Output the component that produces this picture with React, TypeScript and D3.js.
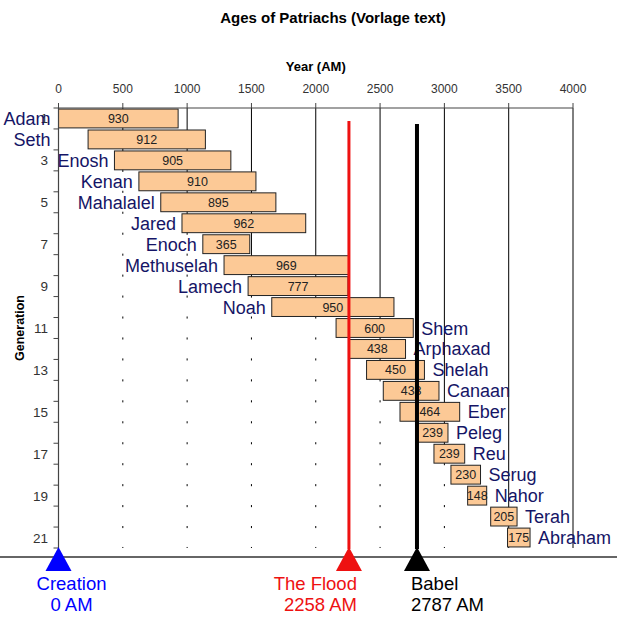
import React from "react";
import * as d3 from "d3";

const names = ["Adam", "Seth", "Enosh", "Kenan", "Mahalalel", "Jared", "Enoch", "Methuselah", "Lamech", "Noah", "Shem", "Arphaxad", "Shelah", "Canaan", "Eber", "Peleg", "Reu", "Serug", "Nahor", "Terah", "Abraham"];
const births = [0, 230, 435, 625, 795, 960, 1122, 1287, 1474, 1658, 2158, 2260, 2395, 2525, 2655, 2789, 2919, 3051, 3181, 3360, 3491];
const lifespans = [930, 912, 905, 910, 895, 962, 365, 969, 777, 950, 600, 438, 450, 433, 464, 239, 239, 230, 148, 205, 175];
const yearTicks = [0, 500, 1000, 1500, 2000, 2500, 3000, 3500, 4000];
const generationLabels = [1, 3, 5, 7, 9, 11, 13, 15, 17, 19, 21];
const eventNames = ["Creation", "The Flood", "Babel"];
const eventYears = [0, 2258, 2787];
const eventColors = ["#0000ff", "#ee1111", "#000000"];

const W = 617, H = 622;
const FONT = "Arial, 'Liberation Sans', sans-serif";

export default function App() {
  const gens = names.map((_, i) => i + 1);
  const x = d3.scaleLinear().domain([0, 4000]).range([58.5, 573]);
  const y = d3.scaleBand<number>().domain(gens).range([108, 548]).paddingInner(0.1).paddingOuter(0.05);
  const step = y.step();
  const plotTop = 108, plotBottom = 548, baseY = 557;

  return (
    <div style={{ position: "absolute", left: 0, top: 0 }}>
      <svg width={W} height={H} style={{ display: "block", background: "#fff" }} fontFamily={FONT}>
        {/* title */}
        <text x={333} y={23} textAnchor="middle" fontSize={15} fontWeight="bold" fill="#000">Ages of Patriachs (Vorlage text)</text>
        <text x={(x(0) + x(4000)) / 2} y={71} textAnchor="middle" fontSize={13} fontWeight="bold" fill="#000">Year (AM)</text>

        {/* gridlines */}
        {yearTicks.filter(t => t > 0).map(t => (
          <line key={"g" + t} x1={x(t)} x2={x(t)} y1={plotTop} y2={plotBottom} stroke="#000" strokeWidth={1} />
        ))}

        {/* invisible (white) offset bars */}
        {gens.map((g, i) => (
          <rect key={"w" + g} x={x(0)} y={y(g)} width={x(births[i]) - x(0)} height={y.bandwidth()} fill="#fff" />
        ))}

        {/* life bars */}
        {gens.map((g, i) => (
          <rect key={"b" + g} x={x(births[i])} y={y(g)} width={x(births[i] + lifespans[i]) - x(births[i])} height={y.bandwidth()}
            fill="#fcc996" stroke="#222" strokeWidth={1} />
        ))}
        {gens.map((g, i) => (
          <text key={"v" + g} x={(x(births[i]) + x(births[i] + lifespans[i])) / 2} y={y(g)! + y.bandwidth() / 2 + 4.5}
            textAnchor="middle" fontSize={12.5} fill="#222">{lifespans[i]}</text>
        ))}

        {/* top axis */}
        <line x1={x(0)} x2={x(4000)} y1={plotTop} y2={plotTop} stroke="#444" strokeWidth={1.2} />
        {yearTicks.map(t => (
          <g key={"t" + t}>
            <line x1={x(t)} x2={x(t)} y1={plotTop - 5} y2={plotTop} stroke="#444" />
            <text x={x(t)} y={93} textAnchor="middle" fontSize={12} fill="#333">{t}</text>
          </g>
        ))}

        {/* left axis */}
        <line x1={x(0)} x2={x(0)} y1={plotTop} y2={plotBottom} stroke="#444" strokeWidth={1.2} />
        {d3.range(gens.length + 1).map(k => (
          <line key={"lt" + k} x1={x(0) - 5} x2={x(0)} y1={plotTop + k * step} y2={plotTop + k * step} stroke="#444" />
        ))}
        {generationLabels.map(g => (
          <text key={"gl" + g} x={48} y={y(g)! + y.bandwidth() / 2 + 5} textAnchor="end" fontSize={13.5} fill="#333">{g}</text>
        ))}
        <text transform={`translate(24,${(plotTop + plotBottom) / 2}) rotate(-90)`} textAnchor="middle" fontSize={12.5} fontWeight="bold" fill="#000">Generation</text>

        {/* names */}
        {gens.map((g, i) => {
          const left = i < 10;
          const xx = left ? (i < 2 ? x(0) - 8 : x(births[i]) - 6) : x(births[i] + lifespans[i]) + 8;
          return (
            <text key={"n" + g} x={xx} y={y(g)! + y.bandwidth() / 2 + 6.5} textAnchor={left ? "end" : "start"}
              fontSize={18} fill="#151566">{names[i]}</text>
          );
        })}

        {/* event lines */}
        {eventYears.map((yr, i) => i === 0 ? null : (
          <line key={"el" + i} x1={x(yr)} x2={x(yr)} y1={i === 1 ? 121 : 124} y2={baseY - 8}
            stroke={eventColors[i]} strokeWidth={i === 1 ? 3 : 4} />
        ))}

        {/* baseline */}
        <line x1={0} x2={W} y1={baseY} y2={baseY} stroke="#333" strokeWidth={1.5} />

        {/* event markers */}
        {eventYears.map((yr, i) => (
          <path key={"tr" + i} d={`M${x(yr)},${baseY - 10} L${x(yr) + 13},${baseY + 14} L${x(yr) - 13},${baseY + 14} Z`} fill={eventColors[i]} />
        ))}
        {eventYears.map((yr, i) => {
          const anchor = i === 0 ? "middle" : i === 1 ? "end" : "start";
          const xx = i === 0 ? x(yr) + 13 : i === 1 ? x(yr) + 8 : x(yr) - 6;
          return (
            <g key={"et" + i} fill={eventColors[i]} fontSize={18.5} textAnchor={anchor}>
              <text x={xx} y={590}>{eventNames[i]}</text>
              <text x={xx} y={611}>{`${yr} AM`}</text>
            </g>
          );
        })}
      </svg>
    </div>
  );
}
